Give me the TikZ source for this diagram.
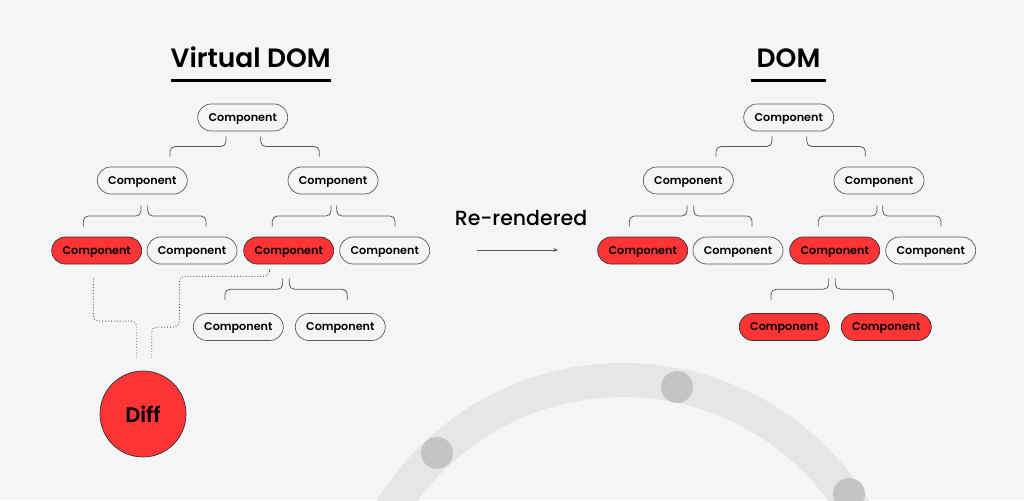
\documentclass[tikz,border=0pt]{standalone}
\usepackage{fontspec}
\setmainfont{Poppins}
\newfontfamily\psemi{Poppins SemiBold}
\newfontfamily\pmed{Poppins Medium}
\usetikzlibrary{arrows.meta,calc}
\definecolor{bg}{HTML}{F4F5F7}
\definecolor{compred}{HTML}{FF3434}
\definecolor{edge}{HTML}{5A5A5A}
\definecolor{ring}{HTML}{E6E6E7}
\definecolor{dotc}{HTML}{C4C4C4}
\tikzset{
  comp/.style={draw=edge, line width=0.7pt, rounded corners=13.5pt, minimum width=90pt,
    minimum height=27pt, inner sep=0pt, text depth=0pt, font=\psemi\fontsize{11.2}{11.2}\selectfont, fill=bg},
  hot/.style={comp, fill=compred, draw=black!80},
  br/.style={draw=edge, line width=0.8pt, rounded corners=5pt},
  dots/.style={draw=edge, line width=0.9pt, dotted, rounded corners=5pt},
  title/.style={anchor=base, inner sep=0pt, font=\psemi\fontsize{26.5}{26.5}\selectfont},
}
\newcommand\bra[6]{%
  \path ([xshift=#2pt,yshift=-#3pt]#1.south) coordinate (bs)
        ([xshift=#5pt,yshift=#6pt]#4.north) coordinate (be);
  \draw[br] (bs) |- ($(bs)!.5!(be)$) -| (be);}
\newcommand\comptree[2]{%
  \node[comp] (#1r) at (242.7,117.5) {Component};
  \node[comp] (#1a) at (142.3,180.5) {Component};
  \node[comp] (#1b) at (333,180.5) {Component};
  \node[hot]  (#1aa) at (96.7,250.5) {Component};
  \node[comp] (#1ab) at (192,250.5) {Component};
  \node[hot]  (#1ba) at (288.7,250.5) {Component};
  \node[comp] (#1bb) at (384.7,250.5) {Component};
  \node[#2]   (#1baa) at (238.3,327) {Component};
  \node[#2]   (#1bab) at (340.3,327) {Component};
  \bra{#1r}{-16.7}{5}{#1a}{27.7}{10}
  \bra{#1r}{18}{5}{#1b}{-13.7}{10}
  \bra{#1a}{-1.3}{11}{#1aa}{-13.4}{10}
  \bra{#1a}{5.4}{11}{#1ab}{14}{10}
  \bra{#1b}{-2}{11}{#1ba}{-16.4}{10}
  \bra{#1b}{3.7}{11}{#1bb}{10.3}{10}
  \bra{#1ba}{-6}{14}{#1baa}{-13.3}{13}
  \bra{#1ba}{0.6}{14}{#1bab}{7}{13}
}
\begin{document}
\begin{tikzpicture}[x=1pt,y=-1pt]
  \useasboundingbox (0,0) rectangle (1024,500);
  \fill[bg] (0,0) rectangle (1024,500);
  \begin{scope}
    \clip (0,0) rectangle (1024,500);
    \draw[ring, line width=34pt] (623,652) circle[radius=272pt];
    \fill[dotc] (437,453) circle[radius=16pt];
    \fill[dotc] (677,387) circle[radius=16pt];
    \fill[dotc] (849,494) circle[radius=16pt];
  \end{scope}
  % titles
  \node[title] (t1) at (250.7,67.7) {Virtual DOM};
  \draw[line width=2.6pt] ([yshift=-13pt]t1.base west) -- ([yshift=-13pt]t1.base east);
  \node[title] (t2) at (788.5,67.7) {DOM};
  \draw[line width=2.6pt] ([xshift=-5pt,yshift=-12.6pt]t2.base west) -- ([xshift=5pt,yshift=-12.6pt]t2.base east);
  % trees
  \comptree{L}{comp}
  \begin{scope}[xshift=546pt]
    \comptree{R}{hot}
  \end{scope}
  % re-rendered
  \node[anchor=base, inner sep=0pt, font=\pmed\fontsize{20.5}{20.5}\selectfont] (rr) at (521,225) {Re-rendered};
  \coordinate (a1) at (476.7,250);
  \coordinate (a2) at (558.3,250);
  \draw[edge, line width=0.8pt, -{Stealth[length=5pt,width=4pt]}] (a1) -- (a2);
  % diff
  \node[circle, fill=compred, draw=black!80, line width=0.7pt, minimum size=86pt, inner sep=0pt,
        font=\psemi\fontsize{21}{21}\selectfont] (diff) at (143,414) {Diff};
  \draw[dots] ([xshift=-3.4pt,yshift=-14pt]Laa.south) -- ++(0,42.7)
      -| ([xshift=-6.3pt,yshift=11.7pt]diff.north);
  \draw[dots] ([xshift=-19.4pt,yshift=-7.7pt]Lba.south) -- ++(0,4.3) -| ++(-90,50.7)
      -| ([xshift=8.7pt,yshift=11.7pt]diff.north);
\end{tikzpicture}
\end{document}
